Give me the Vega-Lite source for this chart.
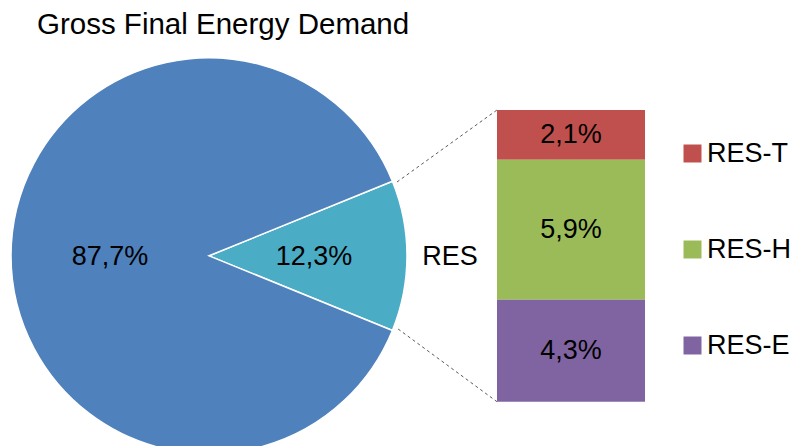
{
  "$schema": "https://vega.github.io/schema/vega-lite/v6.json",
  "width": 796,
  "height": 402,
  "autosize": "none",
  "padding": {"left": 0, "top": 44, "right": 0, "bottom": 0},
  "background": "white",
  "config": {
    "view": {"stroke": null},
    "font": "Liberation Sans",
    "legend": {
      "orient": "none",
      "legendX": 679,
      "legendY": 96,
      "padding": 0,
      "symbolType": "square",
      "symbolSize": 324,
      "symbolStrokeWidth": 0,
      "symbolOpacity": 1,
      "labelFont": "Liberation Sans",
      "labelFontSize": 27,
      "labelColor": "#000000",
      "labelOffset": 1,
      "clipHeight": 27,
      "rowPadding": 68
    }
  },
  "title": {
    "text": "Gross Final Energy Demand",
    "anchor": "start",
    "font": "Liberation Sans",
    "fontSize": 29.5,
    "fontWeight": "normal",
    "color": "#000000",
    "dx": 37,
    "offset": 4
  },
  "datasets": {
    "pie": [
      {"part": "RES", "value": 12.3, "label": "12,3%", "ord": 1},
      {"part": "Other", "value": 87.7, "label": "87,7%", "ord": 2}
    ],
    "bar": [
      {"part": "RES-T", "value": 2.1, "label": "2,1%", "ord": 3},
      {"part": "RES-H", "value": 5.9, "label": "5,9%", "ord": 2},
      {"part": "RES-E", "value": 4.3, "label": "4,3%", "ord": 1}
    ]
  },
  "layer": [
    {
      "data": {"name": "pie"},
      "mark": {"type": "arc", "outerRadius": 198, "stroke": "white", "strokeWidth": 1.5},
      "encoding": {
        "x": {"datum": -12.144, "type": "quantitative", "scale": {"domain": [-20.957, 12.608], "nice": false, "zero": false}, "axis": null},
        "y": {"datum": 6.15, "type": "quantitative", "scale": {"domain": [-1.868, 15.083], "nice": false, "zero": false}, "axis": null},
        "theta": {"field": "value", "type": "quantitative", "stack": true, "scale": {"range": [1.18438, 7.46757]}},
        "order": {"field": "ord", "type": "quantitative"},
        "fill": {"field": "part", "type": "nominal", "scale": {"domain": ["RES", "Other"], "range": ["#4BACC6", "#4F81BD"]}, "legend": null}
      }
    },
    {
      "data": {"name": "bar"},
      "transform": [
        {"stack": "value", "groupby": [], "sort": [{"field": "ord"}], "as": ["y0", "y1"]}
      ],
      "mark": {"type": "bar"},
      "encoding": {
        "x": {"datum": 0, "type": "quantitative", "scale": {"domain": [-20.957, 12.608], "nice": false, "zero": false}, "axis": null},
        "x2": {"datum": 6.241},
        "y": {"field": "y0", "type": "quantitative", "scale": {"domain": [-1.868, 15.083], "nice": false, "zero": false}, "axis": null},
        "y2": {"field": "y1"},
        "color": {"field": "part", "type": "nominal", "scale": {"domain": ["RES-T", "RES-H", "RES-E"], "range": ["#C0504D", "#9BBB59", "#8064A2"]}, "legend": {"title": null}}
      }
    },
    {
      "data": {"name": "bar"},
      "transform": [
        {"stack": "value", "groupby": [], "sort": [{"field": "ord"}], "as": ["y0", "y1"]},
        {"calculate": "(datum.y0 + datum.y1) / 2", "as": "mid"}
      ],
      "mark": {"type": "text", "fontSize": 27, "font": "Liberation Sans", "color": "#000000", "baseline": "middle", "align": "center"},
      "encoding": {
        "x": {"datum": 3.12, "type": "quantitative", "scale": {"domain": [-20.957, 12.608], "nice": false, "zero": false}, "axis": null},
        "y": {"field": "mid", "type": "quantitative", "scale": {"domain": [-1.868, 15.083], "nice": false, "zero": false}, "axis": null},
        "text": {"field": "label"}
      }
    },
    {
      "data": {"name": "pie"},
      "transform": [
        {"calculate": "datum.part === 'RES' ? -7.717 : -16.32", "as": "lx"}
      ],
      "mark": {"type": "text", "fontSize": 27, "font": "Liberation Sans", "color": "#000000", "baseline": "middle", "align": "center"},
      "encoding": {
        "x": {"field": "lx", "type": "quantitative", "scale": {"domain": [-20.957, 12.608], "nice": false, "zero": false}, "axis": null},
        "y": {"datum": 6.1, "type": "quantitative", "scale": {"domain": [-1.868, 15.083], "nice": false, "zero": false}, "axis": null},
        "text": {"field": "label"}
      }
    },
    {
      "data": {"values": [{"name": "RES"}]},
      "mark": {"type": "text", "fontSize": 27, "font": "Liberation Sans", "color": "#000000", "baseline": "middle", "align": "center"},
      "encoding": {
        "x": {"datum": -1.98, "type": "quantitative", "scale": {"domain": [-20.957, 12.608], "nice": false, "zero": false}, "axis": null},
        "y": {"datum": 6.1, "type": "quantitative", "scale": {"domain": [-1.868, 15.083], "nice": false, "zero": false}, "axis": null},
        "text": {"field": "name"}
      }
    },
    {
      "data": {"values": [{"connector": "upper"}]},
      "mark": {"type": "rule", "color": "#595959", "strokeWidth": 1, "strokeDash": [3, 3]},
      "encoding": {
        "x": {"datum": -4.217, "type": "quantitative", "scale": {"domain": [-20.957, 12.608], "nice": false, "zero": false}, "axis": null},
        "y": {"datum": 9.264, "type": "quantitative", "scale": {"domain": [-1.868, 15.083], "nice": false, "zero": false}, "axis": null},
        "x2": {"datum": 0},
        "y2": {"datum": 12.3}
      }
    },
    {
      "data": {"values": [{"connector": "lower"}]},
      "mark": {"type": "rule", "color": "#595959", "strokeWidth": 1, "strokeDash": [3, 3]},
      "encoding": {
        "x": {"datum": -4.17, "type": "quantitative", "scale": {"domain": [-20.957, 12.608], "nice": false, "zero": false}, "axis": null},
        "y": {"datum": 3.066, "type": "quantitative", "scale": {"domain": [-1.868, 15.083], "nice": false, "zero": false}, "axis": null},
        "x2": {"datum": 0},
        "y2": {"datum": 0}
      }
    }
  ],
  "resolve": {"scale": {"color": "independent", "fill": "independent"}}
}
